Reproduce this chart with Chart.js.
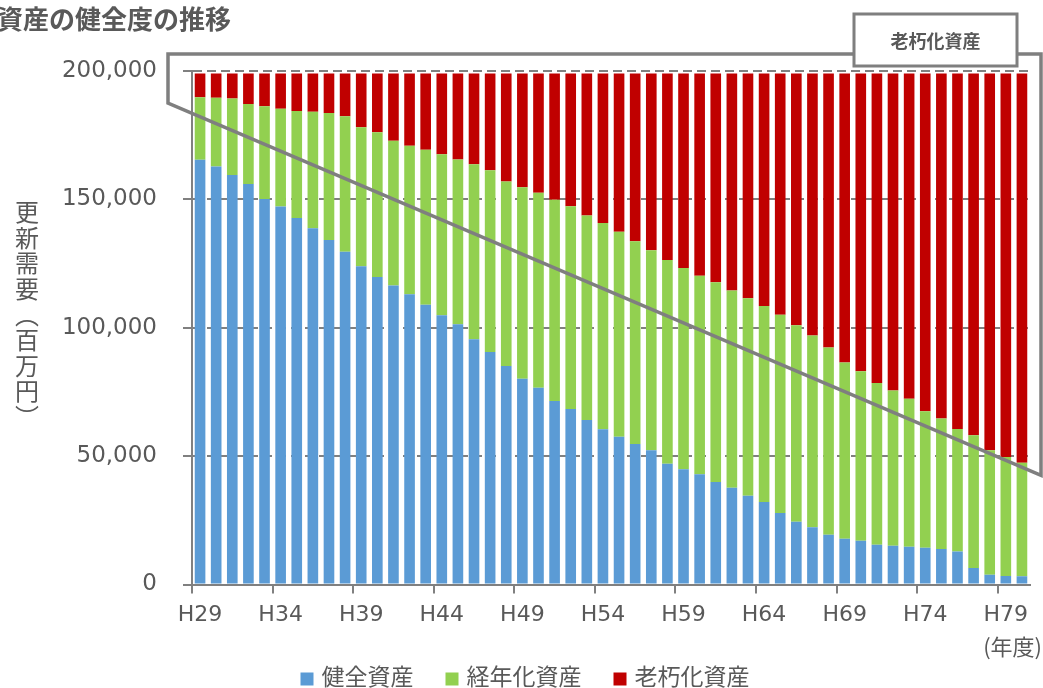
<!DOCTYPE html>
<html lang="ja">
<head>
<meta charset="utf-8">
<title>資産の健全度の推移</title>
<script src="https://cdn.jsdelivr.net/npm/chart.js@4/dist/chart.umd.min.js"></script>
<style>
  html, body { margin: 0; padding: 0; background: #ffffff; }
  #wrap { width: 1043px; height: 688px; position: relative; }
</style>
</head>
<body>
<div id="wrap"><canvas id="chart" width="1043" height="688"></canvas></div>
<script>
// 年度 (H29〜H80)
const years = Array.from({ length: 52 }, (_, i) => 'H' + (29 + i));

// 更新需要（百万円）
const healthy = [
  165400, 162800, 159500, 156000, 150100, 147200, 142700, 138800, 134200, 129600,
  124000, 119800, 116500, 113000, 109000, 104900, 101400, 95500, 90600, 85100,
  80100, 76600, 71500, 68400, 64100, 60500, 57500, 54700, 52300, 47000,
  44900, 42900, 39900, 37700, 34600, 32100, 27800, 24400, 22300, 19400,
  17800, 17000, 15500, 15100, 14700, 14300, 13800, 12900, 6400, 3800,
  3300, 3200
];
const aging = [
  24400, 26800, 29800, 31100, 36200, 38100, 41700, 45300, 49400, 52800,
  54100, 56300, 56300, 57900, 60300, 62700, 64100, 68200, 70700, 71900,
  74600, 76000, 78400, 78900, 79600, 80300, 79900, 79000, 77900, 79400,
  78400, 77400, 77800, 76800, 76900, 76400, 77300, 76600, 74700, 72900,
  68700, 66100, 63000, 60500, 57600, 53200, 50900, 47700, 51700, 48500,
  46400, 44200
];
const deteriorated = [
  9200, 9400, 9700, 11900, 12700, 13700, 14600, 14900, 15400, 16600,
  20900, 22900, 26200, 28100, 29700, 31400, 33500, 35300, 37700, 42000,
  44300, 46400, 49100, 51700, 55300, 58200, 61600, 65300, 68800, 72600,
  75700, 78700, 81300, 84500, 87500, 90500, 93900, 98000, 102000, 106700,
  112500, 115900, 120500, 123400, 126700, 131500, 134300, 138400, 140900, 146700,
  149300, 151600
];

const seriesNames = ['健全資産', '経年化資産', '老朽化資産'];
const seriesColors = ['#5B9BD5', '#92D050', '#C00000'];
const yTicks = [0, 50000, 100000, 150000, 200000];

const TEXT = '#595959';
const LINE = '#808080';
const LATIN = "'DejaVu Sans', 'Noto Sans CJK JP', sans-serif";
const JP = "'Noto Sans CJK JP', sans-serif";

// 見出し・縦軸タイトル・年度単位
const textPlugin = {
  id: 'texts',
  afterDraw(chart) {
    const ctx = chart.ctx;
    ctx.save();
    ctx.fillStyle = TEXT;
    ctx.font = 'bold 26px ' + JP;
    ctx.textAlign = 'left';
    ctx.textBaseline = 'middle';
    ctx.fillText('資産の健全度の推移', -3, 19);

    // 縦書きの軸タイトル
    const chars = ['更', '新', '需', '要', '︵', '百', '万', '円', '︶'];
    ctx.font = '24px ' + JP;
    ctx.textAlign = 'center';
    chars.forEach((c, i) => ctx.fillText(c, 27, 212 + i * 25.6));

    ctx.font = '22px ' + JP;
    ctx.textAlign = 'right';
    ctx.fillText('(年度)', 1042, 647);
    ctx.restore();
  }
};

// 凡例
const legendPlugin = {
  id: 'bottomLegend',
  afterDraw(chart) {
    const ctx = chart.ctx;
    ctx.save();
    ctx.font = '23px ' + JP;
    ctx.textBaseline = 'middle';
    ctx.textAlign = 'left';
    const box = 13, gapText = 8, gapItem = 32, yMid = 679;
    const widths = chart.data.datasets.map(d => ctx.measureText(d.label).width);
    const total = widths.reduce((a, w) => a + box + gapText + w, 0) + gapItem * (widths.length - 1);
    let x = 525 - total / 2;
    chart.data.datasets.forEach((d, i) => {
      ctx.fillStyle = d.backgroundColor;
      ctx.fillRect(x, yMid - box / 2, box, box);
      ctx.fillStyle = TEXT;
      ctx.fillText(d.label, x + box + gapText, yMid - 3);
      x += box + gapText + widths[i] + gapItem;
    });
    ctx.restore();
  }
};

// 老朽化資産の範囲を示す囲み線と見出し枠
const bracketPlugin = {
  id: 'bracket',
  afterDraw(chart) {
    const ctx = chart.ctx;
    const area = chart.chartArea;
    const ys = chart.scales.y;
    const xL = area.left - 24;
    const xR = area.right + 11;
    const yTop = area.top - 17;
    ctx.save();
    ctx.strokeStyle = '#7f7f7f';
    ctx.lineWidth = 3.5;
    ctx.lineJoin = 'miter';
    ctx.beginPath();
    ctx.moveTo(xL, yTop);
    ctx.lineTo(xL, ys.getPixelForValue(187500));
    ctx.lineTo(xR, ys.getPixelForValue(42500));
    ctx.lineTo(xR, yTop);
    ctx.closePath();
    ctx.stroke();

    const bw = 163, bh = 52;
    const bx = xR - 24 - bw, by = 14;
    ctx.fillStyle = '#ffffff';
    ctx.fillRect(bx, by, bw, bh);
    ctx.lineWidth = 3;
    ctx.strokeRect(bx, by, bw, bh);
    ctx.fillStyle = TEXT;
    ctx.font = 'bold 18px ' + JP;
    ctx.textAlign = 'center';
    ctx.textBaseline = 'middle';
    ctx.fillText('老朽化資産', bx + bw / 2, by + bh / 2 + 1);
    ctx.restore();
  }
};

const values = [healthy, aging, deteriorated];

new Chart(document.getElementById('chart'), {
  type: 'bar',
  data: {
    labels: years,
    datasets: values.map((v, i) => ({
      label: seriesNames[i],
      data: v,
      backgroundColor: seriesColors[i],
      borderWidth: 0,
      barPercentage: 0.66,
      categoryPercentage: 1.0
    }))
  },
  options: {
    responsive: false,
    animation: false,
    layout: { padding: { top: 71, right: 13, left: 0, bottom: 63.5 } },
    plugins: {
      legend: { display: false },
      tooltip: { enabled: false }
    },
    scales: {
      x: {
        stacked: true,
        offset: true,
        afterFit(scale) { scale.height = 40; },
        grid: {
          offset: true,
          drawOnChartArea: false,
          drawTicks: true,
          tickLength: 9,
          lineWidth: 2,
          color: ctx => (ctx.index % 5 === 0 ? LINE : 'rgba(0,0,0,0)')
        },
        border: { display: true, color: LINE, width: 2 },
        ticks: {
          autoSkip: false,
          maxRotation: 0,
          minRotation: 0,
          padding: 9,
          color: TEXT,
          font: { family: LATIN, size: 22 },
          callback: (v, i) => (i % 5 === 0 ? years[i] : '')
        }
      },
      y: {
        stacked: true,
        min: 0,
        max: 200000,
        afterFit(scale) { scale.width = 192; },
        afterBuildTicks(scale) { scale.ticks = yTicks.map(v => ({ value: v })); },
        grid: {
          drawOnChartArea: true,
          drawTicks: true,
          tickLength: 9,
          lineWidth: 2,
          color: LINE,
          tickColor: LINE
        },
        border: { display: true, color: LINE, width: 2, dash: [9, 5] },
        ticks: {
          padding: 26,
          color: TEXT,
          font: { family: LATIN, size: 23 },
          callback: v => v.toLocaleString('en-US')
        }
      }
    }
  },
  plugins: [textPlugin, legendPlugin, bracketPlugin]
});
</script>
</body>
</html>
